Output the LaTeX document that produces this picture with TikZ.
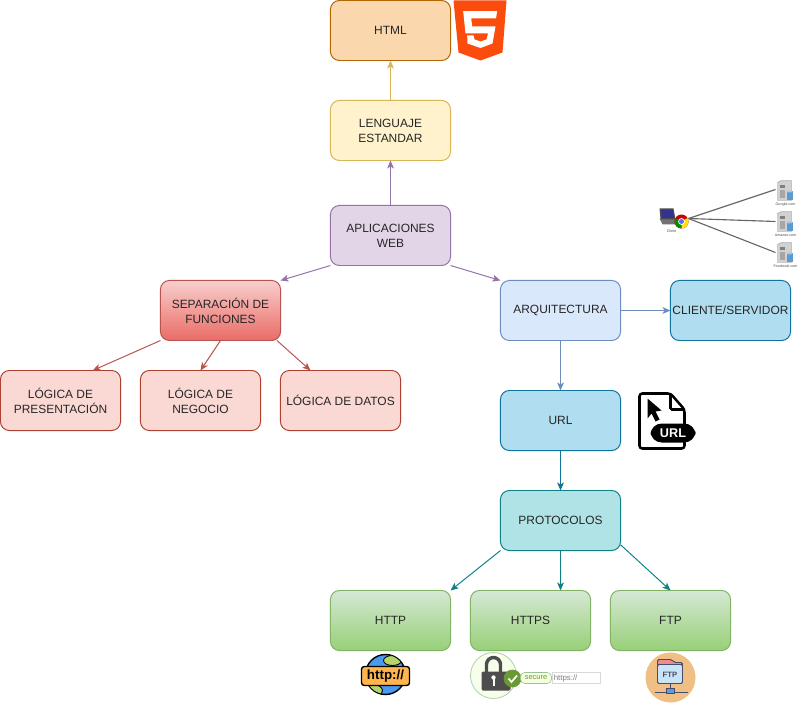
\documentclass[tikz,border=0pt]{standalone}
\usepackage{fontspec}
\setmainfont{Liberation Sans}
\usepackage{tikz}
\usetikzlibrary{arrows.meta,positioning}
\definecolor{orangefill}{HTML}{FAD7AC}
\definecolor{orangeline}{HTML}{B46504}
\definecolor{yellowfill}{HTML}{FFF2CC}
\definecolor{yellowline}{HTML}{D6B656}
\definecolor{purplefill}{HTML}{E1D5E7}
\definecolor{purpleline}{HTML}{9673A6}
\definecolor{redtop}{HTML}{F8CECC}
\definecolor{redbottom}{HTML}{EA6B66}
\definecolor{redline}{HTML}{B85450}
\definecolor{rosefill}{HTML}{FAD9D5}
\definecolor{roseline}{HTML}{AE4132}
\definecolor{bluefill}{HTML}{DAE8FC}
\definecolor{blueline}{HTML}{6C8EBF}
\definecolor{skyfill}{HTML}{B1DDF0}
\definecolor{skyline}{HTML}{10739E}
\definecolor{tealfill}{HTML}{B0E3E6}
\definecolor{tealline}{HTML}{0E8088}
\definecolor{greentop}{HTML}{D5E8D4}
\definecolor{greenbottom}{HTML}{97D077}
\definecolor{greenline}{HTML}{82B366}
\definecolor{htmlorange}{HTML}{FC4C0D}
\definecolor{okgreen}{HTML}{6A9A35}
\definecolor{globeblue}{HTML}{4A9BF0}
\definecolor{landgreen}{HTML}{B5D46A}
\definecolor{tagorange}{HTML}{FFB54D}
\definecolor{ftpround}{HTML}{EFBF85}
\definecolor{ftptab}{HTML}{F08A90}
\definecolor{ftpbody}{HTML}{C8E4F6}
\definecolor{ftpline}{HTML}{4A4A6A}
\definecolor{ftpblue}{HTML}{5C9BE0}
\definecolor{lockgrey}{HTML}{4D4D4D}
\definecolor{cylblue}{HTML}{5B9BD5}
\tikzset{
  box/.style={draw, rounded corners=0.22cm, minimum width=3cm,
    minimum height=1.5cm, outer sep=0pt, inner xsep=1pt, align=center, line width=0.7pt,
    text=black!85, font=\fontsize{8.5}{10.7}\selectfont},
  link/.style={line width=0.7pt, -{Stealth[length=2mm,width=1.7mm,inset=0.5mm]}},
  tiny label/.style={inner sep=0pt, text=black!70, font=\fontsize{2.6}{3}\selectfont}
}
\begin{document}
\begin{tikzpicture}[x=0.025cm, y=-0.025cm]
\useasboundingbox (-0.5,-0.5) rectangle (804.5,702.5);

% Top branch
\node[box, fill=orangefill, draw=orangeline] (html) at (390,30) {HTML};
\node[box, fill=yellowfill, draw=yellowline] (lenguaje) at (390,130) {LENGUAJE\\ESTANDAR};
\node[box, fill=purplefill, draw=purpleline] (aplicaciones) at (390,235) {APLICACIONES\\WEB};

% Left branch
\node[box, top color=redtop, bottom color=redbottom, draw=redline] (separacion) at (220,310) {SEPARACIÓN DE\\FUNCIONES};
\node[box, fill=rosefill, draw=roseline] (presentacion) at (60,400) {LÓGICA DE\\PRESENTACIÓN};
\node[box, fill=rosefill, draw=roseline] (negocio) at (200,400) {LÓGICA DE\\NEGOCIO};
\node[box, fill=rosefill, draw=roseline] (datos) at (340,400) {LÓGICA DE DATOS};

% Right branch
\node[box, fill=bluefill, draw=blueline] (arquitectura) at (560,310) {ARQUITECTURA};
\node[box, fill=skyfill, draw=skyline] (cliente) at (730,310) {CLIENTE/SERVIDOR};
\node[box, fill=skyfill, draw=skyline] (url) at (560,420) {URL};
\node[box, fill=tealfill, draw=tealline] (protocolos) at (560,520) {PROTOCOLOS};

% Bottom row
\node[box, top color=greentop, bottom color=greenbottom, draw=greenline] (http) at (390,620) {HTTP};
\node[box, top color=greentop, bottom color=greenbottom, draw=greenline] (https) at (530,620) {HTTPS};
\node[box, top color=greentop, bottom color=greenbottom, draw=greenline] (ftp) at (670,620) {FTP};

% Connectors
\draw[link, yellowline] (lenguaje) -- (html);
\draw[link, purpleline] (aplicaciones) -- (lenguaje);
\draw[link, purpleline] (aplicaciones.south west) -- (separacion.north east);
\draw[link, purpleline] (aplicaciones.south east) -- (arquitectura.north west);
\draw[link, redline] (separacion.south west) -- (presentacion.43);
\draw[link, redline] (separacion.south) -- (negocio.north);
\draw[link, redline] (separacion.-28.6) -- (datos.135);
\draw[link, blueline] (arquitectura) -- (cliente);
\draw[link, blueline] (arquitectura) -- (url);
\draw[link, skyline] (url) -- (protocolos);
\draw[link, tealline] (protocolos.south west) -- (http.north east);
\draw[link, tealline] (protocolos.south) -- (https.45);
\draw[link, tealline] (protocolos.-22.6) -- (ftp.north);

% HTML5 badge
\fill[htmlorange] (453,0) -- (506,0) -- (502,52) -- (480,60) -- (458,52) -- cycle;
\fill[white] (462.7,10.7) -- (496.7,10.7) -- (495.5,18) -- (470.7,18) -- (471.7,26) -- (495,26) -- (492,43)
  -- (480,47.5) -- (467,43) -- (466.7,35) -- (473,35) -- (474,39) -- (480,41) -- (486,39)
  -- (487.5,33) -- (465,33) -- cycle;

% Client and servers
\coordinate (clientpc) at (688,218);
\fill[black!55] (659,218) -- (674,218) -- (679,224) -- (662,224) -- cycle;
\fill[black!70] (659,208) -- (673,208) -- (675,219) -- (660,219) -- cycle;
\fill[blue!45!black!80] (660.5,209.5) -- (672,209.5) -- (673.5,217.5) -- (661.5,217.5) -- cycle;
\fill[red!80!black] (681,221) circle (7);
\fill[green!55!black] (681,221) -- +(90:7) arc (90:210:7) -- cycle;
\fill[yellow!85!orange] (681,221) -- +(330:7) arc (330:450:7) -- cycle;
\fill[white] (681,221) circle (3.4);
\fill[blue!60] (681,221) circle (2.5);
\node[tiny label] (clientlabel) at (671,231) {Client};
\foreach \srv/\top/\endy/\txt in {google/180/189/Google.com,amazon/211/221/Amazon.com,facebook/242/252/Facebook.com}{
  \coordinate (\srv) at (775,\endy);
  \draw[black!60, line width=0.8pt] (clientpc) -- (\srv);
  \fill[black!18, draw=black!45, line width=0.2pt] (777,\top+2) -- (781,\top) -- (791,\top) -- (791,\top+20) -- (777,\top+20) -- cycle;
  \fill[black!50] (779,\top+5) rectangle (784,\top+8);
  \fill[black!35] (779,\top+10) rectangle (784,\top+18);
  \fill[cylblue] (786,\top+11) rectangle (792,\top+20);
  \fill[cylblue!55] (789,\top+11) ellipse (3 and 1);
  \node[tiny label] (\srv label) at (785,\top+24) {\txt};
}

% URL file icon
\draw[black, line width=1.8pt, rounded corners=2, fill=white] (639,393) -- (670,393) -- (684,409) -- (684,448) -- (639,448) -- cycle;
\draw[black, line width=1.8pt, rounded corners=1] (670,393) -- (670,409) -- (684,409);
\fill[black] (647,398) -- (661,410) -- (655,411) -- (659,419) -- (655,421) -- (651,413) -- (647,418) -- cycle;
\fill[black, rounded corners=8] (650,423) rectangle (695,442);
\node[inner sep=0pt, text=white, font=\bfseries\fontsize{9}{10}\selectfont] (urltext) at (672.5,432.5) {URL};

% http icon
\fill[globeblue, draw=black, line width=1pt] (385,674) circle (20);
\begin{scope}
\clip (385,674) circle (19.5);
\fill[landgreen, draw=black, line width=0.6pt] (392,660) ellipse (9 and 5);
\fill[landgreen, draw=black, line width=0.6pt] (372,690) ellipse (10 and 6);
\end{scope}
\node[draw=black, line width=1pt, fill=tagorange, rounded corners=2, inner sep=0pt, minimum width=48*0.025cm, minimum height=19*0.025cm,
  font=\bfseries\fontsize{9.5}{10}\selectfont] (httptext) at (385,675.5) {http://};

% https icon
\filldraw[fill=green!40!yellow!8, draw=green!40!black!30, line width=0.6pt] (493,675) circle (23);
\draw[lockgrey, line width=2.4pt] (486,672) -- (486,664) arc (180:360:7) -- (500,672);
\fill[lockgrey, rounded corners=1] (481,671) rectangle (510,690);
\fill[white] (493,677) circle (2.2);
\fill[white] (492,678) rectangle (494,685);
\fill[draw=white, line width=0.5pt, okgreen] (512,678) circle (8.5);
\draw[white, line width=1.2pt] (508,678) -- (511,681.5) -- (516.5,675);
\node[draw=black!15, minimum width=48*0.025cm, minimum height=11*0.025cm, inner sep=0pt, fill=white, anchor=west,
  text=black!50, font=\fontsize{5.6}{6}\selectfont, align=left, text width=44*0.025cm] (httpsurl) at (551,677.5) {https://};
\node[draw=green!40!black!40, fill=green!30!yellow!12, rounded corners=3, minimum width=31*0.025cm, minimum height=11*0.025cm, inner sep=0pt,
  text=okgreen, font=\fontsize{5.3}{6}\selectfont] (secure) at (535.5,677.5) {secure};

% FTP icon
\fill[ftpround] (670,677) circle (25);
\filldraw[fill=ftptab, draw=ftpline, line width=0.7pt, rounded corners=1] (657,665) -- (657,659) -- (671,659) -- (674,662) -- (682,662) -- (682,665) -- cycle;
\filldraw[fill=ftpbody, draw=ftpline, line width=0.7pt, rounded corners=1] (657,664) rectangle (682,683);
\node[inner sep=0pt, text=ftpline, font=\bfseries\fontsize{5.5}{6}\selectfont] (ftptext) at (669.5,674) {FTP};
\draw[ftpline, line width=0.8pt] (670,683) -- (670,688);
\draw[ftpline, line width=1pt] (654,692) -- (687,692);
\filldraw[fill=ftpblue, draw=ftpline, line width=0.5pt] (666,688) rectangle (674,693);
\end{tikzpicture}
\end{document}
